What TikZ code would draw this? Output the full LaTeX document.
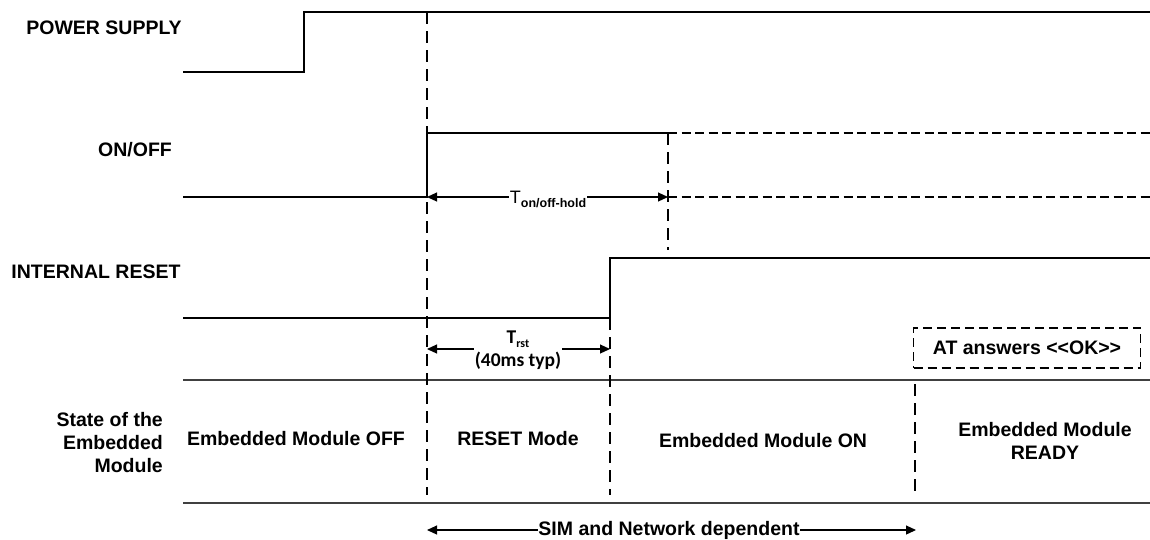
\documentclass[tikz,border=0pt]{standalone}
\usepackage{fontspec}
\setmainfont{Liberation Sans}
\newfontfamily\calfont{Carlito}
\usepackage{tikz}
\usetikzlibrary{positioning,arrows.meta,calc}
\tikzset{
  signal/.style={line width=1.3pt},
  future/.style={line width=1.3pt, dash pattern=on 9pt off 4.5pt},
  guide/.style={line width=1.2pt, dash pattern=on 12pt off 7pt},
  rowline/.style={line width=1.5pt, black!75},
  dimarrow/.style={{Triangle[length=10pt,width=9pt]}-{Triangle[length=10pt,width=9pt]}, line width=1.1pt},
  dimlabel/.style={fill=white, inner sep=1pt, align=center},
  signame/.style={font=\bfseries\fontsize{19.5}{23}\selectfont, inner sep=0pt},
  statename/.style={font=\bfseries\fontsize{19.5}{23}\selectfont, align=center, inner sep=0pt},
  notebox/.style={draw, line width=1.2pt, dash pattern=on 9pt off 5pt, minimum width=227pt, minimum height=40pt, font=\bfseries\fontsize{19.5}{23}\selectfont}
}
\begin{document}
\begin{tikzpicture}[x=1pt, y=-1pt]
  \useasboundingbox (0,0) rectangle (1150,539);
  \node[signame] (psname) at (104,28) {POWER SUPPLY};
  \node[signame] (onname) at (135,150) {ON/OFF};
  \node[signame] (rstname) at (96,272) {INTERNAL RESET};
  \node[statename, align=right, anchor=east] (statename) at (163,443) {State of the\\Embedded\\Module};

  \coordinate (ps0) at (183,72);
  \coordinate (psup) at (304,12);
  \coordinate (psend) at (1150,12);
  \draw[signal] (ps0) -| (psup) -- (psend);

  \coordinate (on0) at (183,197);
  \coordinate (onup) at (427,133);
  \coordinate (onhi) at (668,133);
  \coordinate (onlo) at (668,197);
  \coordinate (onhiend) at (1150,133);
  \coordinate (onloend) at (1150,197);
  \draw[signal] (on0) -| (onup) -- (onhi);
  \draw[future] (onhi) -- (onhiend);
  \draw[future] (onlo) -- (onloend);

  \coordinate (rst0) at (183,318);
  \coordinate (rstup) at (610,258);
  \coordinate (rstend) at (1150,258);
  \draw[signal] (rst0) -| (rstup) -- (rstend);

  \coordinate (rowtop) at (183,380);
  \coordinate (rowtopend) at (1150,380);
  \coordinate (rowbot) at (183,503);
  \coordinate (rowbotend) at (1150,503);
  \draw[rowline] (rowtop) -- (rowtopend);
  \draw[rowline] (rowbot) -- (rowbotend);

  \coordinate (g1a) at (427,12);
  \coordinate (g1b) at (427,495);
  \coordinate (g2a) at (668,133);
  \coordinate (g2b) at (668,250);
  \coordinate (g3a) at (610,318);
  \coordinate (g3b) at (610,495);
  \coordinate (g4a) at (915,384);
  \coordinate (g4b) at (915,495);
  \draw[guide] (g1a) -- (g1b);
  \draw[guide] (g2a) -- (g2b);
  \draw[guide] (g3a) -- (g3b);
  \draw[guide] (g4a) -- (g4b);

  \coordinate (holdL) at (427,197);
  \coordinate (holdR) at (668,197);
  \draw[dimarrow] (holdL) -- (holdR);
  \node[dimlabel, anchor=base] (holdlbl) at (548,203) {\fontsize{18}{18}\selectfont T\raisebox{-0.45ex}{\bfseries\fontsize{12.5}{12.5}\selectfont on/off-hold}};

  \coordinate (trstL) at (427,349);
  \coordinate (trstR) at (610,349);
  \draw[dimarrow] (trstL) -- (trstR);
  \node[dimlabel, font=\calfont\bfseries\fontsize{19.5}{23}\selectfont] (trstlbl) at (518,350) {T\raisebox{-0.4ex}{\fontsize{12}{12}\selectfont rst}\\(40ms typ)};

  \node[notebox] (atbox) at (1027,348) {AT answers <{}<OK>{}>};

  \node[statename] (offstate) at (296,439) {Embedded Module OFF};
  \node[statename] (resetstate) at (518,439) {RESET Mode};
  \node[statename] (onstate) at (763,441) {Embedded Module ON};
  \node[statename] (readystate) at (1045,441) {Embedded Module\\READY};

  \coordinate (simL) at (427,530);
  \coordinate (simR) at (916,530);
  \draw[dimarrow] (simL) -- (simR);
  \node[dimlabel, font=\bfseries\fontsize{19.5}{23}\selectfont, inner sep=0pt] (simlbl) at (669,530) {SIM and Network dependent};
\end{tikzpicture}
\end{document}
